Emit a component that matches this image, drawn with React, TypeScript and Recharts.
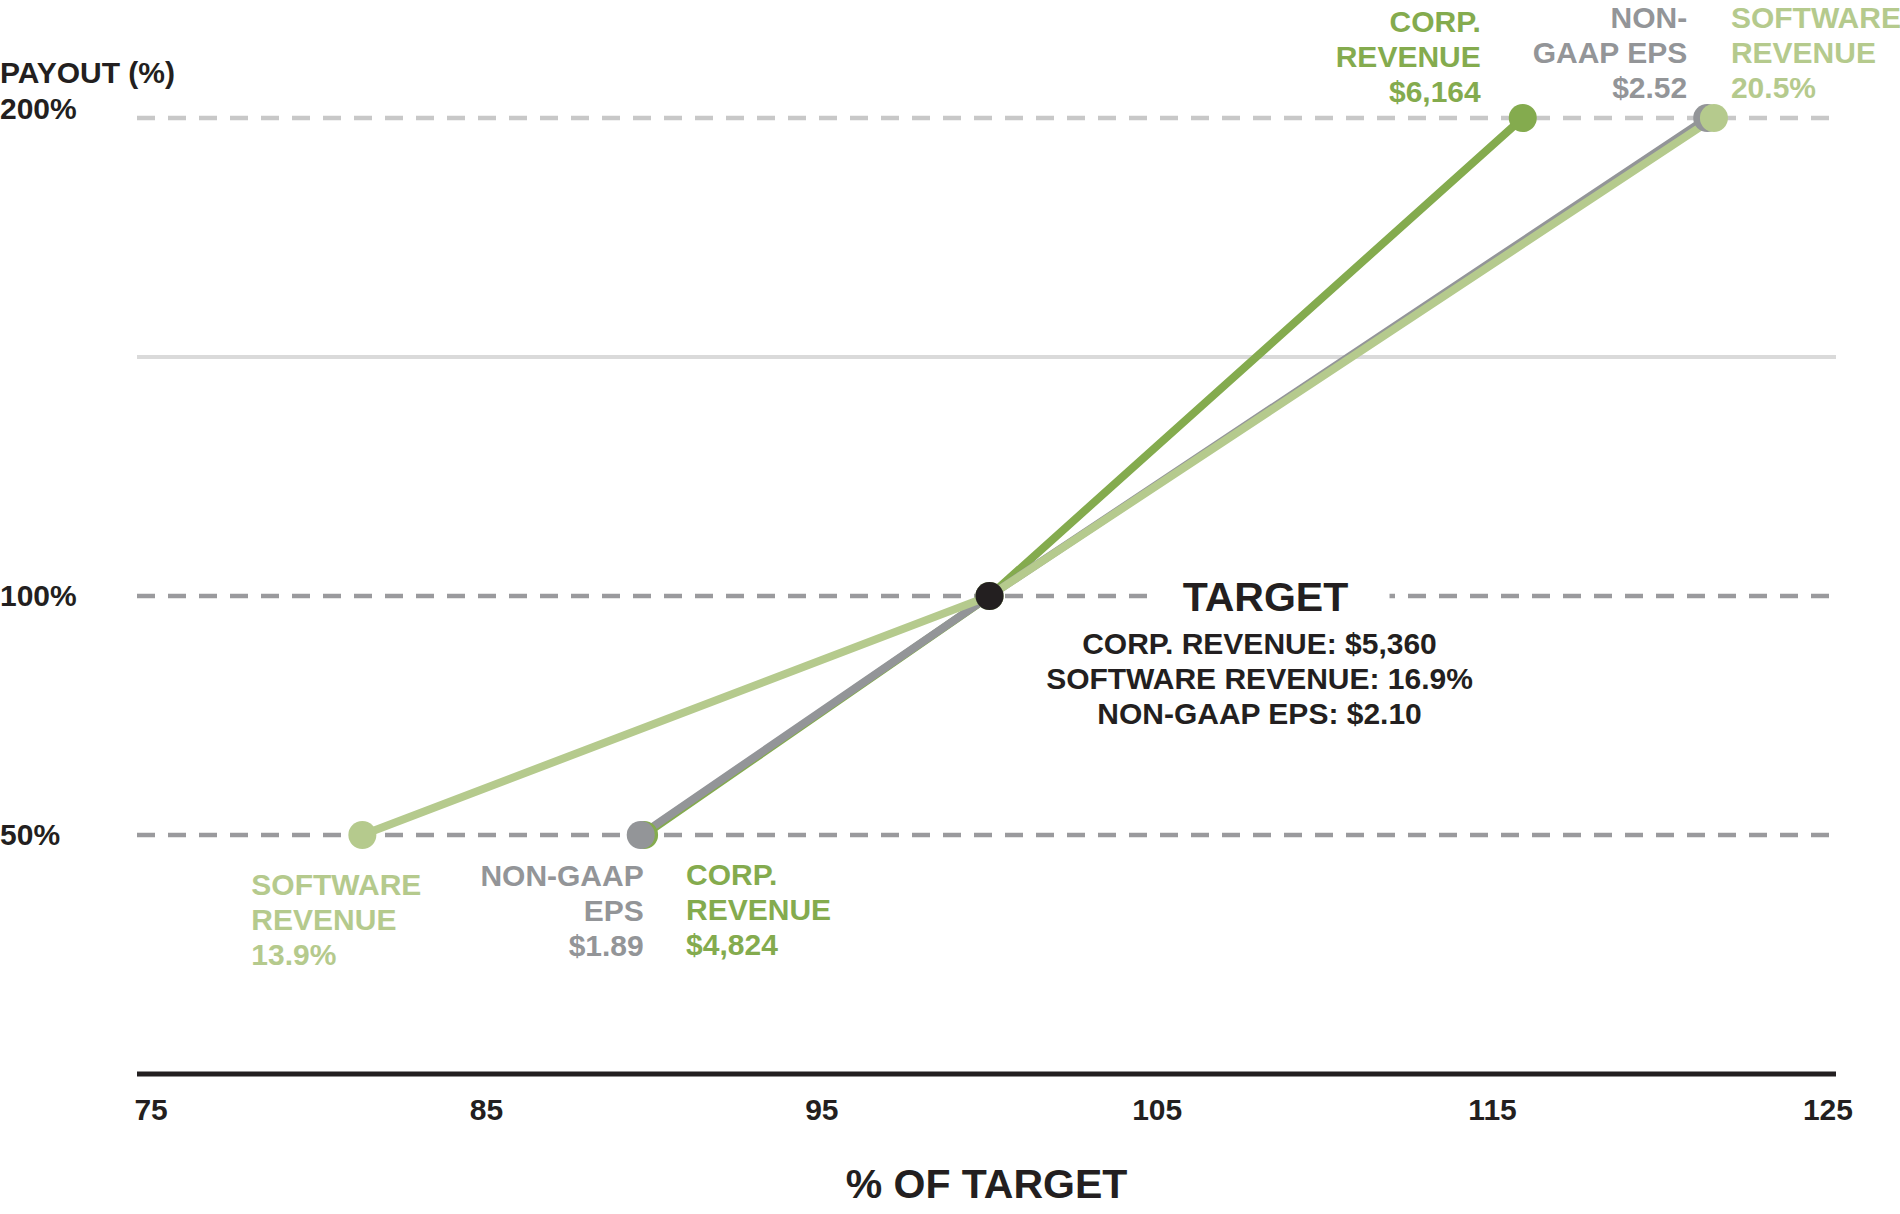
import { LineChart, Line, XAxis, YAxis, ReferenceLine, ReferenceDot, LabelList, Label } from "recharts";

// payout level reached at each end of the range (threshold, target, max)
const payoutLevels = [50, 100, 200];

// % of target where each metric hits those payout levels
const corpRevenuePct = [89.7, 100, 115.9];
const softwareRevenuePct = [81.3, 100, 121.6];
const nonGaapEpsPct = [89.6, 100, 121.4];

const targetPct = 100;
const targetPayout = 100;

const xTicks = [75, 85, 95, 105, 115, 125];
const yTicks = [50, 100, 200];

const corpRevenueLabels = [["CORP.", "REVENUE", "$4,824"], [], ["CORP.", "REVENUE", "$6,164"]];
const softwareRevenueLabels = [["SOFTWARE", "REVENUE", "13.9%"], [], ["SOFTWARE", "REVENUE", "20.5%"]];
const nonGaapEpsLabels = [["NON-GAAP", "EPS", "$1.89"], [], ["NON-", "GAAP EPS", "$2.52"]];
const targetLines = ["CORP. REVENUE: $5,360", "SOFTWARE REVENUE: 16.9%", "NON-GAAP EPS: $2.10"];

const FONT = "'Liberation Sans', Arial, Helvetica, sans-serif";
const INK = "#231f20";
const CORP = "#84ab4e";
const SOFT = "#b5ca8d";
const EPS = "#939598";
const FS = 30;

const toPoints = (pcts: number[]) => pcts.map((pct, i) => ({ pct, payout: payoutLevels[i] }));

const corpData = toPoints(corpRevenuePct);
const softData = toPoints(softwareRevenuePct);
const epsData = toPoints(nonGaapEpsPct);

type Place = { dx: number; dy: number; anchor: "start" | "end" };

// text block next to each end point
const endLabel = (lines: string[][], color: string, place: Record<number, Place>) => (props: any) => {
    const { index } = props;
    const p = place[index];
    if (!p) return null;
    const x = props.viewBox?.x ?? props.x;
    const y = props.viewBox?.y ?? props.y;
    return (
        <text textAnchor={p.anchor} fill={color} fontSize={FS} fontWeight="bold" fontFamily={FONT}>
            {lines[index].map((t, i) => (
                <tspan key={i} x={x + p.dx} y={y + p.dy + i * 35}>
                    {t}
                </tspan>
            ))}
        </text>
    );
};

const YTick = (props: any) => {
    const { y, payload } = props;
    const off = payload.value === 200 ? 1 : 10; // 200% sits on top of its line
    return (
        <text x={0} y={y + off} fill={INK} fontSize={FS} fontWeight="bold" fontFamily={FONT}>
            {payload.value}%
        </text>
    );
};

const XTick = (props: any) => {
    const { x, y, payload } = props;
    return (
        <text x={x} y={y + 46} textAnchor="middle" fill={INK} fontSize={FS} fontWeight="bold" fontFamily={FONT}>
            {payload.value}
        </text>
    );
};

const TargetLabel = (props: any) => {
    const vb = props.viewBox;
    const cx = vb.x + vb.width / 2;
    const cy = vb.y + vb.height / 2;
    return (
        <g>
            {/* gap in the dashed 100% line */}
            <rect x={cx + 161} y={cy - 22} width={239} height={44} fill="#fff" />
            <text x={cx + 276} y={cy + 15} textAnchor="middle" fill={INK} fontSize={41} fontWeight="bold" fontFamily={FONT}>
                TARGET
            </text>
            <text textAnchor="middle" fill={INK} fontSize={FS} fontWeight="bold" fontFamily={FONT}>
                {targetLines.map((t, i) => (
                    <tspan key={i} x={cx + 270} y={cy + 58 + i * 35}>
                        {t}
                    </tspan>
                ))}
            </text>
        </g>
    );
};

export default function App() {
    return (
        <div style={{ position: "absolute", left: 0, top: 0 }}>
            <LineChart width={1900} height={1214} margin={{ top: 118, right: 64, left: 0, bottom: 100 }}>
                <XAxis
                    dataKey="pct"
                    type="number"
                    domain={[74.58, 125.24]}
                    allowDataOverflow
                    ticks={xTicks}
                    height={40}
                    tickSize={0}
                    tickMargin={0}
                    tickLine={false}
                    axisLine={{ stroke: INK, strokeWidth: 5 }}
                    tick={<XTick />}
                >
                    <Label
                        content={(p: any) => (
                            <text
                                x={p.viewBox.x + p.viewBox.width / 2}
                                y={p.viewBox.y + 124}
                                textAnchor="middle"
                                fill={INK}
                                fontSize={41}
                                fontWeight="bold"
                                fontFamily={FONT}
                            >
                                % OF TARGET
                            </text>
                        )}
                    />
                </XAxis>
                <YAxis
                    type="number"
                    domain={[0, 200]}
                    ticks={yTicks}
                    width={137}
                    axisLine={false}
                    tickLine={false}
                    tick={<YTick />}
                >
                    <Label
                        content={(p: any) => (
                            <text x={0} y={p.viewBox.y - 35} fill={INK} fontSize={FS} fontWeight="bold" fontFamily={FONT}>
                                PAYOUT (%)
                            </text>
                        )}
                    />
                </YAxis>

                <ReferenceLine y={200} stroke="#c8c8c8" strokeWidth={4.5} strokeDasharray="18 13" />
                <ReferenceLine y={150} stroke="#dadada" strokeWidth={4} />
                <ReferenceLine y={100} stroke="#9a9a9d" strokeWidth={4.5} strokeDasharray="18 13" />
                <ReferenceLine y={50} stroke="#9a9a9d" strokeWidth={4.5} strokeDasharray="18 13" />

                <Line
                    data={corpData}
                    dataKey="payout"
                    type="linear"
                    stroke={CORP}
                    strokeWidth={8}
                    dot={{ r: 14, fill: CORP, stroke: "none" }}
                    activeDot={false}
                    isAnimationActive={false}
                >
                    <LabelList
                        dataKey="payout"
                        content={endLabel(corpRevenueLabels, CORP, {
                            0: { dx: 42, dy: 50, anchor: "start" },
                            2: { dx: -42, dy: -86, anchor: "end" },
                        })}
                    />
                </Line>
                <Line
                    data={epsData}
                    dataKey="payout"
                    type="linear"
                    stroke={EPS}
                    strokeWidth={8}
                    dot={{ r: 14, fill: EPS, stroke: "none" }}
                    activeDot={false}
                    isAnimationActive={false}
                >
                    <LabelList
                        dataKey="payout"
                        content={endLabel(nonGaapEpsLabels, EPS, {
                            0: { dx: 3, dy: 51, anchor: "end" },
                            2: { dx: -20, dy: -90, anchor: "end" },
                        })}
                    />
                </Line>
                <Line
                    data={softData}
                    dataKey="payout"
                    type="linear"
                    stroke={SOFT}
                    strokeWidth={8}
                    dot={{ r: 14, fill: SOFT, stroke: "none" }}
                    activeDot={false}
                    isAnimationActive={false}
                >
                    <LabelList
                        dataKey="payout"
                        content={endLabel(softwareRevenueLabels, SOFT, {
                            0: { dx: -111, dy: 60, anchor: "start" },
                            2: { dx: 17, dy: -90, anchor: "start" },
                        })}
                    />
                </Line>

                <ReferenceDot x={targetPct} y={targetPayout} r={14} fill={INK} stroke="none" label={TargetLabel} />
            </LineChart>
        </div>
    );
}
